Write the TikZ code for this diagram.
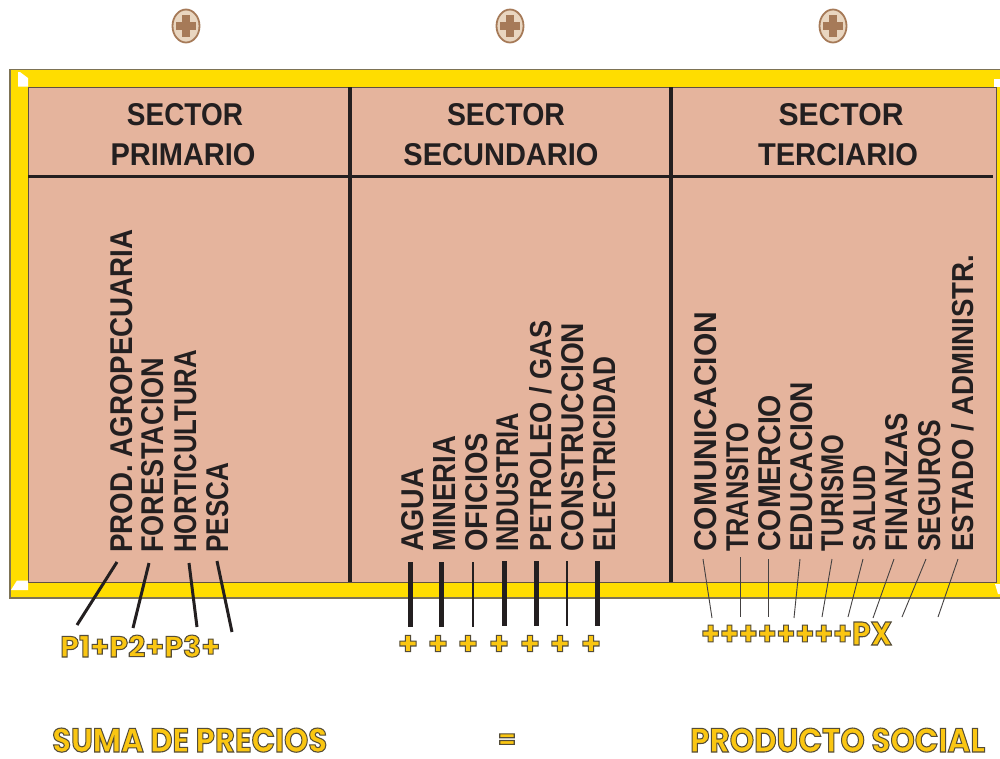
\documentclass[tikz,border=0pt]{standalone}
\usepackage{fontspec}
\setmainfont{Liberation Sans}
\newfontfamily\yfont{Poppins}
\usepackage{graphicx}
\definecolor{salmon}{RGB}{229,180,157}
\definecolor{frameyellow}{RGB}{255,221,0}
\definecolor{frameline}{RGB}{125,115,85}
\definecolor{boxline}{RGB}{95,80,70}
\definecolor{ink}{RGB}{35,31,32}
\definecolor{yfill}{RGB}{250,198,18}
\definecolor{screwfill}{RGB}{233,214,192}
\definecolor{screwbrown}{RGB}{166,122,88}
\newcommand\vl[2]{\resizebox{#1pt}{22pt}{\bfseries #2}}
\newcommand\hl[2]{\resizebox{#1pt}{22pt}{\bfseries #2}}
% yellow text with dark outline (fill + stroke text rendering)
\newcommand\ostart{\special{pdf:literal direct 0.33 0.3 0.22 RG 1.1 w 2 Tr}}
\newcommand\oend{\special{pdf:literal direct 0 Tr}}
\newcommand\ytext[3]{\textcolor{yfill}{\ostart\resizebox{#1pt}{#2pt}{\fontsize{\fpeval{#2/0.7}}{12}\yfont\bfseries #3}\oend}}
\newcommand\yplain[2]{\textcolor{yfill}{\ostart\fontsize{#1}{#1}\yfont\bfseries #2\oend}}
\tikzset{
  vlab/.style={rotate=90, anchor=base west, inner sep=0pt, text=ink},
  hlab/.style={anchor=base, inner sep=0pt, text=ink},
  ylab/.style={inner sep=0pt},
  pline/.style={draw=ink, line width=3pt},
  sbar/.style={draw=ink, line width=5pt},
  sthin/.style={draw=ink, line width=2pt},
  tline/.style={draw=ink!85, line width=0.9pt},
}
\begin{document}
\begin{tikzpicture}[x=1pt,y=-1pt]
\useasboundingbox (0,0) rectangle (1000,758);
\fill[white] (0,0) rectangle (1000,758);
% screws
\foreach \sx in {186,510,833}{
  \filldraw[fill=screwfill, draw=screwbrown, line width=1.8pt] (\sx,26) ellipse (13.5 and 16.5);
  \fill[screwbrown] (\sx-4,15) rectangle (\sx+4,37);
  \fill[screwbrown] (\sx-10,22) rectangle (\sx+10,30);
}
% frame
\filldraw[fill=frameyellow, draw=frameline, line width=1.5pt] (10,69.5) rectangle (1006,598);
\filldraw[fill=salmon, draw=boxline, line width=1pt] (28,87) rectangle (996,582);
% corner marks
\fill[white] (18,72) -- (20,72) -- (28,78) -- (28,86.5) -- (18,86.5) -- cycle;
\fill[white] (11,590) -- (17,580.5) -- (28,580.5) -- (28,590) -- cycle;
\fill[white] (994,79) rectangle (1000,86.5);
\fill[white] (995,584) -- (1000,584) -- (1000,594) -- (998,594) -- cycle;
% dividers
\draw[ink, line width=4pt] (350,87) -- (350,582);
\draw[ink, line width=4pt] (671,87) -- (671,582);
\draw[ink, line width=3pt] (28,176) -- (993,176);
% headers
\node[hlab] (h1a) at (185,125) {\hl{116}{SECTOR}};
\node[hlab] (h1b) at (183,165) {\hl{145}{PRIMARIO}};
\node[hlab] (h2a) at (506,125) {\hl{118}{SECTOR}};
\node[hlab] (h2b) at (501,165) {\hl{195}{SECUNDARIO}};
\node[hlab] (h3a) at (841,125) {\hl{125}{SECTOR}};
\node[hlab] (h3b) at (838,165) {\hl{160}{TERCIARIO}};
% primary labels
\node[vlab] (prod) at (132,553) {\vl{323}{PROD. AGROPECUARIA}};
\node[vlab] (fore) at (163,553) {\vl{195}{FORESTACION}};
\node[vlab] (hort) at (196,553) {\vl{203}{HORTICULTURA}};
\node[vlab] (pesc) at (228,553) {\vl{90}{PESCA}};
% secondary labels
\node[vlab] (agua) at (423,552) {\vl{84}{AGUA}};
\node[vlab] (mine) at (455,552) {\vl{116}{MINERIA}};
\node[vlab] (ofic) at (487,552) {\vl{119}{OFICIOS}};
\node[vlab] (indu) at (518,552) {\vl{139}{INDUSTRIA}};
\node[vlab] (petr) at (551,552) {\vl{231}{PETROLEO / GAS}};
\node[vlab] (cons) at (583,552) {\vl{229}{CONSTRUCCION}};
\node[vlab] (elec) at (615,552) {\vl{195}{ELECTRICIDAD}};
% tertiary labels
\node[vlab] (comu) at (716,552) {\vl{240}{COMUNICACION}};
\node[vlab] (tran) at (748,552) {\vl{129}{TRANSITO}};
\node[vlab] (come) at (780,552) {\vl{157}{COMERCIO}};
\node[vlab] (educ) at (812,552) {\vl{170}{EDUCACION}};
\node[vlab] (turi) at (843,552) {\vl{117}{TURISMO}};
\node[vlab] (salu) at (875,552) {\vl{87}{SALUD}};
\node[vlab] (fina) at (907,552) {\vl{139}{FINANZAS}};
\node[vlab] (segu) at (940,552) {\vl{132}{SEGUROS}};
\node[vlab] (esta) at (973,552) {\vl{297}{ESTADO / ADMINISTR.}};
% primary connectors
\coordinate (p1a) at (117,562); \coordinate (p1b) at (77,625);
\coordinate (p2a) at (149,563); \coordinate (p2b) at (133,628);
\coordinate (p3a) at (189,563); \coordinate (p3b) at (197,627);
\coordinate (p4a) at (217,561); \coordinate (p4b) at (232,632);
\draw[pline] (p1a) -- (p1b);
\draw[pline] (p2a) -- (p2b);
\draw[pline] (p3a) -- (p3b);
\draw[pline] (p4a) -- (p4b);
% secondary bars
\coordinate (s1a) at (410,562); \coordinate (s1b) at (410,627);
\coordinate (s2a) at (441,562); \coordinate (s2b) at (441,627);
\coordinate (s3a) at (473,562); \coordinate (s3b) at (473,627);
\coordinate (s4a) at (504,561); \coordinate (s4b) at (504,626);
\coordinate (s5a) at (536,561); \coordinate (s5b) at (536,626);
\coordinate (s6a) at (567,561); \coordinate (s6b) at (567,626);
\coordinate (s7a) at (597,561); \coordinate (s7b) at (597,626);
\draw[sbar] (s1a) -- (s1b);
\draw[sbar] (s2a) -- (s2b);
\draw[sthin] (s3a) -- (s3b);
\draw[sbar] (s4a) -- (s4b);
\draw[sbar] (s5a) -- (s5b);
\draw[sthin] (s6a) -- (s6b);
\draw[sbar] (s7a) -- (s7b);
% tertiary lines
\coordinate (t1a) at (703,559); \coordinate (t1b) at (712,618);
\coordinate (t2a) at (740,557); \coordinate (t2b) at (740,617);
\coordinate (t3a) at (768,559); \coordinate (t3b) at (768,617);
\coordinate (t4a) at (800,559); \coordinate (t4b) at (794,618);
\coordinate (t5a) at (832,559); \coordinate (t5b) at (822,617);
\coordinate (t6a) at (863,559); \coordinate (t6b) at (848,617);
\coordinate (t7a) at (894,559); \coordinate (t7b) at (873,618);
\coordinate (t8a) at (926,559); \coordinate (t8b) at (902,617);
\coordinate (t9a) at (958,559); \coordinate (t9b) at (938,617);
\foreach \i in {1,...,9}{\draw[tline] (t\i a) -- (t\i b);}
% yellow sums
\node[ylab, anchor=base west] (psum) at (60,657) {\ytext{160}{22}{P1+P2+P3+}};
\foreach \px [count=\k] in {408,438,468,499,530,560,591}{
  \node[ylab] (plus\k) at (\px,645) {\yplain{32}{+}};
}
\node[ylab, anchor=base west] (pxsum) at (701,645) {\ytext{191}{23}{++++++++PX}};
\node[ylab, anchor=base west] (suma) at (52,752) {\ytext{275}{24}{SUMA DE PRECIOS}};
\node[ylab] (eq) at (507,741) {\yplain{26}{=}};
\node[ylab, anchor=base west] (prodsoc) at (690,752) {\ytext{295}{24}{PRODUCTO SOCIAL}};
\end{tikzpicture}
\end{document}
